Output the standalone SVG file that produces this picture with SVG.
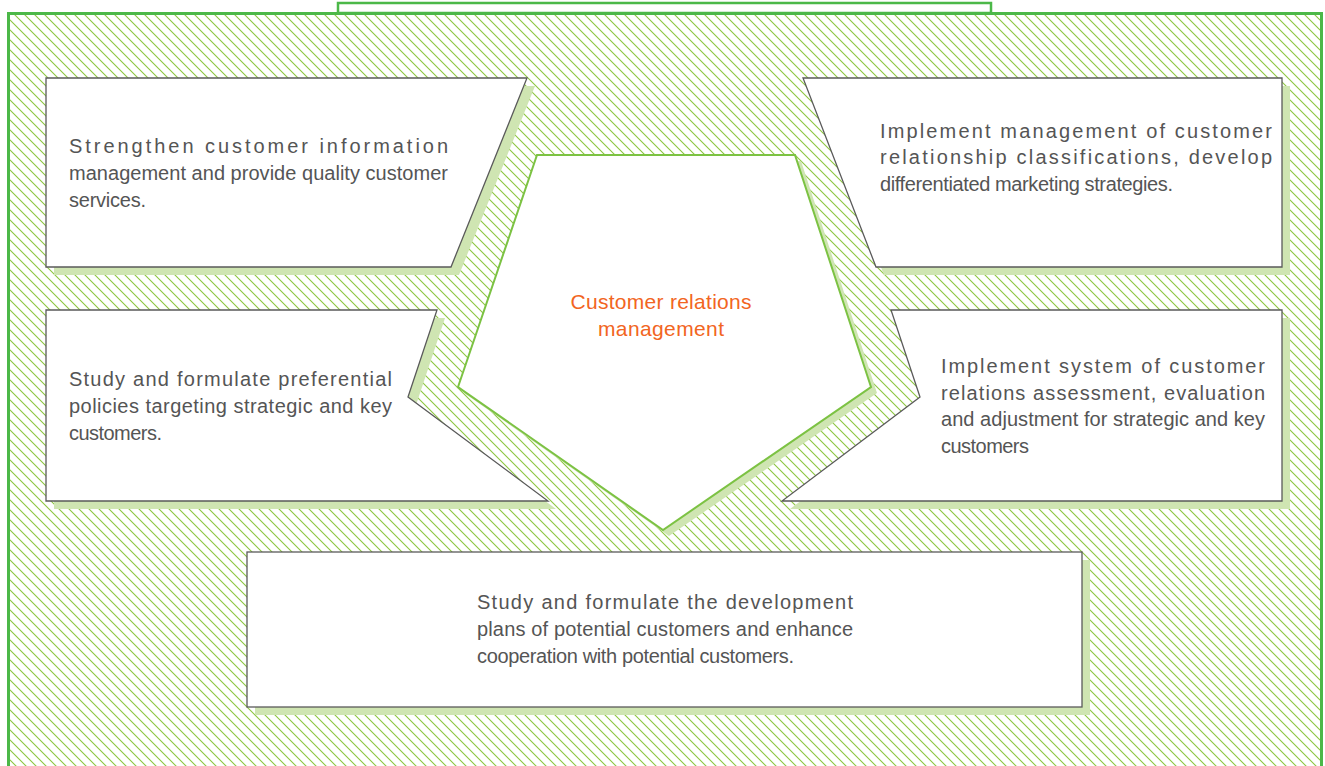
<svg xmlns="http://www.w3.org/2000/svg" width="1325" height="766" viewBox="0 0 1325 766">
<style>
.box{fill:#fff;stroke:#5a5a5a;stroke-width:1.3}
.sh{fill:#cfe5b2;stroke:none}
.pent{fill:#fff;stroke:#7cc243;stroke-width:2}
.t{font-family:"Liberation Sans",Arial,sans-serif;font-size:20px;fill:#555}
.c{font-family:"Liberation Sans",Arial,sans-serif;font-size:21px;fill:#f26522;text-anchor:middle}
</style>
<defs>
<pattern id="hatch" patternUnits="userSpaceOnUse" width="10" height="10">
<path d="M-1,-1 L11,11 M-1,9 L1,11 M9,-1 L11,1" stroke="#8cc63f" stroke-width="1.1" fill="none"/>
</pattern>
</defs>
<rect width="1325" height="766" fill="#fff"/>
<g id="frame">
<rect x="8.5" y="13.5" width="1313" height="770" fill="url(#hatch)" stroke="#4cb848" stroke-width="3"/>
<rect x="338" y="3" width="653" height="10" fill="#fff" stroke="#4cb848" stroke-width="2.5"/>
</g>
<g id="shadows">
<polygon class="sh" points="54,86 535,86 459,275 54,275"/>
<polygon class="sh" points="811,86 1290,86 1290,275 884,275"/>
<polygon class="sh" points="54,318 445,318 416,405 556,509 54,509"/>
<polygon class="sh" points="899,318 1290,318 1290,509 790,509 928,405"/>
<polygon class="sh" points="255,560 1090,560 1090,715 255,715"/>
<polygon class="sh" points="543,161 801,161 877,393 669,536 464,393"/>
</g>
<g id="node-info">
<polygon class="box" points="46,78 527,78 451,267 46,267"/>
<text class="t" x="69" y="153" textLength="379" lengthAdjust="spacing">Strengthen customer information</text>
<text class="t" x="69" y="180" textLength="379" lengthAdjust="spacing">management and provide quality customer</text>
<text class="t" x="69" y="207" textLength="77" lengthAdjust="spacing">services.</text>
</g>
<g id="node-classification">
<polygon class="box" points="803,78 1282,78 1282,267 876,267"/>
<text class="t" x="880" y="138" textLength="392" lengthAdjust="spacing">Implement management of customer</text>
<text class="t" x="880" y="164" textLength="392" lengthAdjust="spacing">relationship classifications, develop</text>
<text class="t" x="880" y="191" textLength="293" lengthAdjust="spacing">differentiated marketing strategies.</text>
</g>
<g id="node-policies">
<polygon class="box" points="46,310 437,310 408,397 548,501 46,501"/>
<text class="t" x="69" y="386" textLength="323" lengthAdjust="spacing">Study and formulate preferential</text>
<text class="t" x="69" y="413" textLength="323" lengthAdjust="spacing">policies targeting strategic and key</text>
<text class="t" x="69" y="440" textLength="93" lengthAdjust="spacing">customers.</text>
</g>
<g id="node-assessment">
<polygon class="box" points="891,310 1282,310 1282,501 782,501 920,397"/>
<text class="t" x="941" y="373" textLength="324" lengthAdjust="spacing">Implement system of customer</text>
<text class="t" x="941" y="400" textLength="324" lengthAdjust="spacing">relations assessment, evaluation</text>
<text class="t" x="941" y="426" textLength="324" lengthAdjust="spacing">and adjustment for strategic and key</text>
<text class="t" x="941" y="453" textLength="88" lengthAdjust="spacing">customers</text>
</g>
<g id="node-potential">
<rect class="box" x="247" y="552" width="835" height="155"/>
<text class="t" x="477" y="609" textLength="376" lengthAdjust="spacing">Study and formulate the development</text>
<text class="t" x="477" y="636" textLength="376" lengthAdjust="spacing">plans of potential customers and enhance</text>
<text class="t" x="477" y="663" textLength="317" lengthAdjust="spacing">cooperation with potential customers.</text>
</g>
<g id="node-center">
<polygon class="pent" points="537,155 795,155 871,387 663,530 458,387"/>
<text class="c" x="661" y="309" textLength="181" lengthAdjust="spacing">Customer relations</text>
<text class="c" x="661" y="336" textLength="126" lengthAdjust="spacing">management</text>
</g>
<g id="connectors"></g>
</svg>
